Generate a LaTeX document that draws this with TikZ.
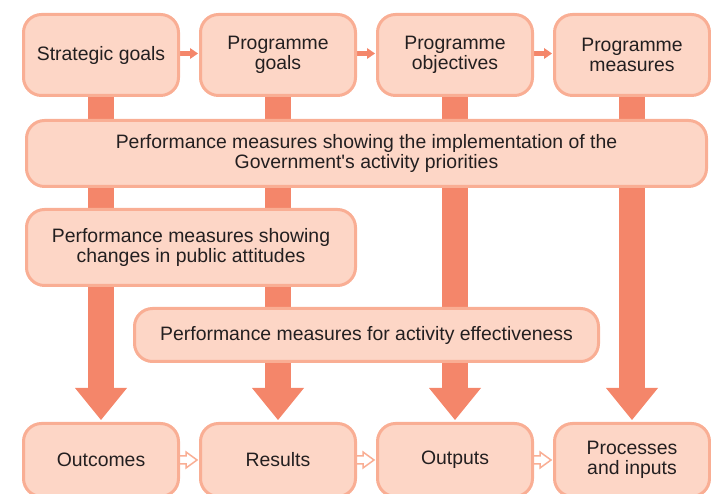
\documentclass[tikz,border=0pt]{standalone}
\usepackage{fontspec}
\setmainfont{Liberation Sans}
\usetikzlibrary{arrows.meta,calc}
\definecolor{boxfill}{HTML}{FDD6C6}
\definecolor{boxline}{HTML}{F9AE94}
\definecolor{flow}{HTML}{F4866A}
\definecolor{ink}{HTML}{231F20}
\pgfdeclarelayer{background}
\pgfsetlayers{background,main}
\begin{document}
\begin{tikzpicture}[x=1pt,y=1pt,
  box/.style={draw=boxline, fill=boxfill, line width=3pt, rounded corners=18pt,
    inner sep=0pt, align=center, text=ink,
    font=\fontsize{19.4pt}{20.5pt}\selectfont},
  stage/.style={box, minimum width=155pt, minimum height=81pt},
  level/.style={box, minimum width=155pt, minimum height=73pt},
  bigflow/.style={draw=flow, line width=26pt,
    -{Triangle[width=52pt,length=32pt,line width=0pt]}},
  chain/.style={draw=flow, line width=5pt,
    -{Triangle[width=11pt,length=8pt,line width=0pt]}},
  handoff/.style={draw=boxline, fill=white, line width=1.5pt, line join=miter}
]
\useasboundingbox (0,0) rectangle (711,494);
\clip (0,0) rectangle (711,494);

% goal chain along the top
\node[stage] (sg) at (101,439) {Strategic goals};
\node[stage] (pg) at (278,439) {Programme\\goals};
\node[stage] (po) at (455,439) {Programme\\objectives};
\node[stage] (pm) at (632,439) {Programme\\measures};

% performance measure layers
\node[box, minimum width=680pt, minimum height=66pt] (impl) at (366.5,340.5)
  {Performance measures showing the implementation of the\\Government\textquotesingle s activity priorities};
\node[box, minimum width=329pt, minimum height=76pt] (att) at (191,246.5)
  {Performance measures showing\\changes in public attitudes};
\node[box, minimum width=464pt, minimum height=53pt] (eff) at (366.5,159)
  {Performance measures for activity effectiveness};

% result chain along the bottom
\node[level] (oc) at (101,34) {Outcomes};
\node[level] (rs) at (278,34) {Results};
\node[level] (op) at (455,34) {Outputs};
\node[level] (pi) at (632,34) {Processes\\and inputs};

\begin{pgfonlayer}{background}
  % vertical flows from each goal to its result
  \foreach \a/\b in {sg/oc, pg/rs, po/op, pm/pi}
    \draw[bigflow] (\a.south) -- ([yshift=2pt]\b.north);
  % small solid arrows between the goals
  \foreach \a/\b in {sg/pg, pg/po, po/pm}
    \draw[chain] ([yshift=1.5pt]\a.east) -- ([yshift=1.5pt,xshift=-1pt]\b.west);
  % hollow arrows between the results
  \foreach \a/\b in {oc/rs, rs/op, op/pi}
    \draw[handoff] ($(\a.east)+(-2,4)$) -- ($(\b.west)+(-13,4)$)
      -- ($(\b.west)+(-13,8)$) -- ($(\b.west)+(-2,0)$)
      -- ($(\b.west)+(-13,-8)$) -- ($(\b.west)+(-13,-4)$)
      -- ($(\a.east)+(-2,-4)$);
\end{pgfonlayer}
\end{tikzpicture}
\end{document}
